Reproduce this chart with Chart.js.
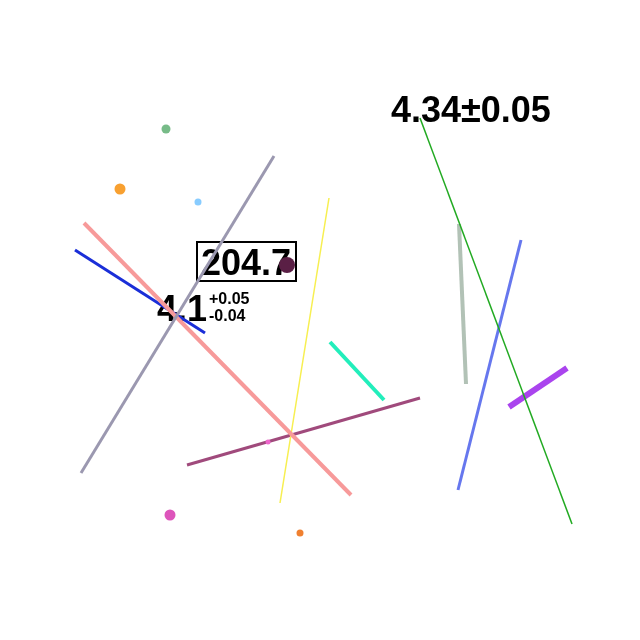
<!DOCTYPE html>
<html>
<head>
<meta charset="utf-8">
<script src="https://cdn.jsdelivr.net/npm/chart.js@4"></script>
<style>
  html, body { margin: 0; padding: 0; background: #fff; }
  #c { display: block; }
</style>
</head>
<body>
<canvas id="c" width="640" height="640"></canvas>
<script>
// line segments: start and end points in plot units
const lineStarts = [[274, 156], [84, 223], [75, 250], [329, 198], [330, 342], [187, 465], [420, 118], [459, 224], [521, 240], [509, 407]];
const lineEnds   = [[81, 473], [351, 495], [205, 333], [280, 503], [384, 400], [420, 398], [572, 524], [466, 384], [458, 490], [567, 368]];
const lineColors = ['#9b98b0', '#f79a9a', '#1a2ed8', '#f7ef50', '#22eebb', '#a04a7c', '#22aa22', '#b2c2b6', '#6677ee', '#aa44ee'];
const lineWidths = [3, 4, 3, 1.5, 4, 3, 1.5, 4, 3, 6];

// single points
const pointXs = [166, 120, 198, 268, 170, 300, 287];
const pointYs = [129, 189, 202, 442, 515, 533, 265];
const pointColors = ['#77bb88', '#f8a030', '#88ccff', '#ee66cc', '#dd55bb', '#f08030', '#5a1f45'];
const pointRadii = [4.5, 5.5, 3.5, 2.5, 5.5, 3.5, 8];

// text labels
const boxedValue = '204.7';
const asymValue = '4.1';
const asymPlus = '+0.05';
const asymMinus = '-0.04';
const symValue = '4.34±0.05';

const datasets = [];
lineStarts.forEach(function (s, i) {
    datasets.push({
        data: [{ x: s[0], y: s[1] }, { x: lineEnds[i][0], y: lineEnds[i][1] }],
        showLine: true,
        borderColor: lineColors[i],
        borderWidth: lineWidths[i],
        pointRadius: 0,
        fill: false,
        order: 1
    });
});
pointXs.forEach(function (x, i) {
    datasets.push({
        data: [{ x: x, y: pointYs[i] }],
        pointRadius: pointRadii[i],
        pointBackgroundColor: pointColors[i],
        pointBorderWidth: 0,
        showLine: false,
        order: 0
    });
});

const textPlugin = {
    id: 'texts',
    beforeDatasetsDraw: function (chart) {
        const ctx = chart.ctx;
        const xs = chart.scales.x, ys = chart.scales.y;
        const px = function (v) { return xs.getPixelForValue(v); };
        const py = function (v) { return ys.getPixelForValue(v); };
        ctx.save();
        ctx.fillStyle = '#000';
        ctx.textBaseline = 'alphabetic';

        // boxed value
        ctx.font = 'bold 36px "Liberation Sans", Arial, sans-serif';
        ctx.textAlign = 'left';
        ctx.fillText(boxedValue, px(201), py(275));
        ctx.strokeStyle = '#000';
        ctx.lineWidth = 2;
        ctx.strokeRect(px(197), py(242), px(296) - px(197), py(281) - py(242));

        // value with asymmetric errors
        ctx.fillText(asymValue, px(157), py(321));
        ctx.font = 'bold 16px "Liberation Sans", Arial, sans-serif';
        ctx.fillText(asymPlus, px(209), py(304));
        ctx.fillText(asymMinus, px(209), py(321));

        // value with symmetric error
        ctx.font = 'bold 36px "Liberation Sans", Arial, sans-serif';
        ctx.fillText(symValue, px(391), py(122));
        ctx.restore();
    }
};

new Chart(document.getElementById('c').getContext('2d'), {
    type: 'scatter',
    data: { datasets: datasets },
    options: {
        responsive: false,
        animation: false,
        devicePixelRatio: 1,
        layout: { padding: 0, autoPadding: false },
        clip: false,
        scales: {
            x: { type: 'linear', min: 0, max: 640, display: false },
            y: { type: 'linear', min: 0, max: 640, reverse: true, display: false }
        },
        plugins: {
            legend: { display: false },
            tooltip: { enabled: false }
        }
    },
    plugins: [textPlugin]
});
</script>
</body>
</html>
